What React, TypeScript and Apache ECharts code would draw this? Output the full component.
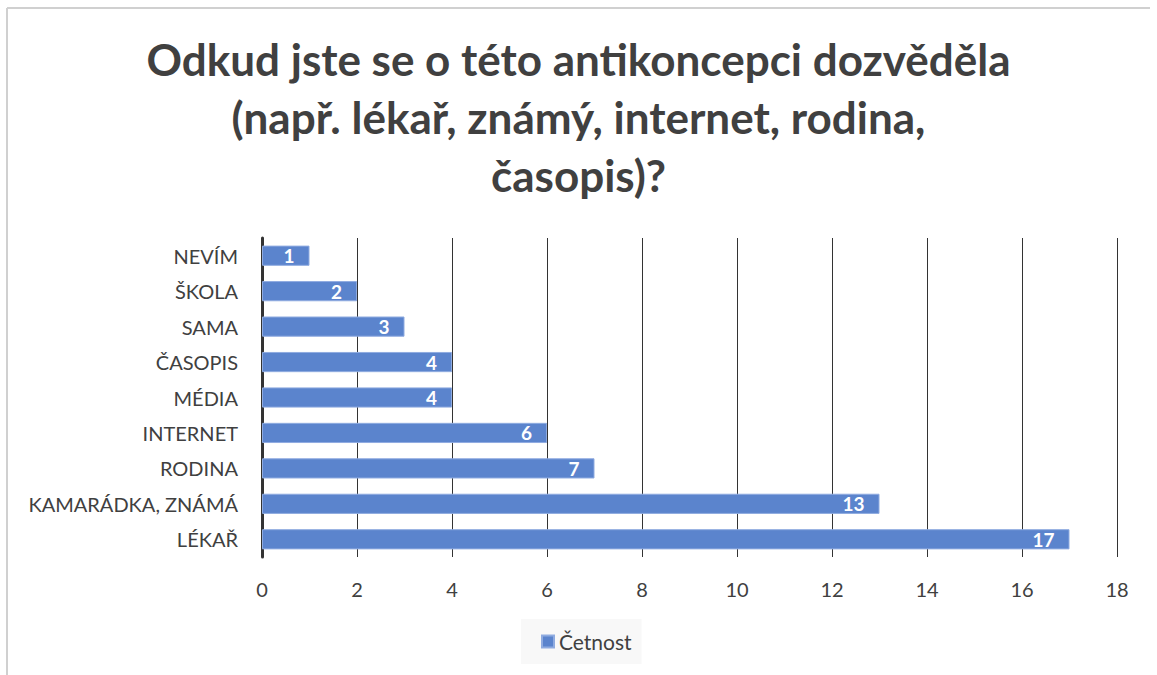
import React, { useEffect, useRef } from "react";
import * as echarts from "echarts";

const categories = ["LÉKAŘ", "KAMARÁDKA, ZNÁMÁ", "RODINA", "INTERNET", "MÉDIA", "ČASOPIS", "SAMA", "ŠKOLA", "NEVÍM"];
const values = [17, 13, 7, 6, 4, 4, 3, 2, 1];
const seriesName = "Četnost";
const titleText = "Odkud jste se o této antikoncepci dozvěděla\n(např. lékař, známý, internet, rodina,\nčasopis)?";

export default function App() {
  const ref = useRef<HTMLDivElement>(null);
  useEffect(() => {
    const chart = echarts.init(ref.current!, null, { renderer: "svg" });
    const font = "Lato, 'Open Sans', sans-serif";
    chart.setOption({
      animation: false,
      backgroundColor: "#fff",
      textStyle: { fontFamily: font },
      title: {
        text: titleText,
        left: "center",
        top: 25,
        textStyle: { fontSize: 44, fontWeight: "bold", color: "#404040", lineHeight: 58, fontFamily: font },
      },
      graphic: [
        { type: "line", shape: { x1: 7, y1: 8, x2: 1150, y2: 8 }, style: { stroke: "#d0d0d0", lineWidth: 2 } },
        { type: "line", shape: { x1: 7, y1: 8, x2: 7, y2: 675 }, style: { stroke: "#d0d0d0", lineWidth: 2 } },
      ],
      grid: { left: 262, right: 40, top: 238, bottom: 118 },
      xAxis: {
        type: "value",
        min: 0,
        max: 18,
        interval: 2,
        axisLine: { show: false },
        axisTick: { show: false },
        splitLine: { show: true, lineStyle: { color: "#333", width: 1 } },
        axisLabel: { fontSize: 20, color: "#404040", margin: 22 },
      },
      yAxis: {
        type: "category",
        data: categories,
        axisLine: { show: true, lineStyle: { color: "#333", width: 3 } },
        axisTick: { show: false },
        axisLabel: { fontSize: 20, color: "#404040", margin: 24 },
      },
      legend: {
        bottom: 11,
        left: 521,
        icon: "rect",
        itemWidth: 12,
        itemHeight: 12,
        itemGap: 6,
        backgroundColor: "#f8f8f8",
        padding: [12, 10, 12, 20],
        textStyle: { fontSize: 21, color: "#404040", fontFamily: font },
        data: [seriesName],
      },
      series: [
        {
          name: seriesName,
          type: "bar",
          data: values,
          barWidth: "57%",
          itemStyle: { color: "#5b84cd", borderColor: "#8fabe0", borderWidth: 1 },
          label: {
            show: true,
            position: "insideRight",
            color: "#fff",
            fontWeight: "bold",
            fontSize: 19,
            distance: 15,
            fontFamily: font,
          },
        },
      ],
    });
    return () => chart.dispose();
  }, []);
  return <div ref={ref} style={{ position: "fixed", left: 0, top: 0, width: 1157, height: 675 }} />;
}
